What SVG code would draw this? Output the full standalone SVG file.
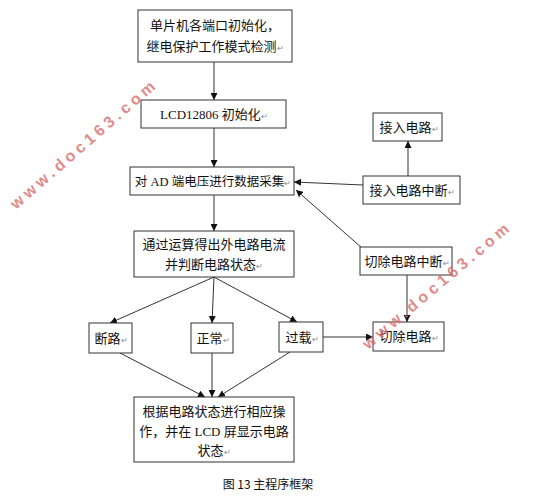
<svg xmlns="http://www.w3.org/2000/svg" width="544" height="502" viewBox="0 0 544 502">
<style>
.box{fill:#fff;stroke:#333;stroke-width:1}
.t{font-family:"Liberation Serif","Noto Sans CJK SC",serif;font-size:13px;fill:#111;text-anchor:middle}
.pm{font-size:8px;fill:#888}
.ln{stroke:#333;stroke-width:1;fill:none;marker-end:url(#ah)}
.wm{font-family:"Liberation Sans",Arial,sans-serif;font-weight:bold;font-size:16px;fill:#d86a6a;fill-opacity:0.8;letter-spacing:4px}
.cap{font-family:"Noto Sans CJK SC",sans-serif;font-size:12px;fill:#111;text-anchor:middle}
</style>
<defs>
<marker id="ah" viewBox="0 0 10 10" refX="10" refY="5" markerWidth="7" markerHeight="7" orient="auto" markerUnits="userSpaceOnUse">
<path d="M0,0 L10,5 L0,10 z" fill="#111"/>
</marker>
</defs>
<rect width="544" height="502" fill="#fff"/>
<g id="connectors">
<line class="ln" x1="214" y1="62" x2="214" y2="100"/>
<line class="ln" x1="214" y1="128" x2="214" y2="167"/>
<line class="ln" x1="214" y1="195" x2="214" y2="231"/>
<line class="ln" x1="214" y1="277" x2="110" y2="323"/>
<line class="ln" x1="214" y1="277" x2="212" y2="323"/>
<line class="ln" x1="214" y1="277" x2="297" y2="322"/>
<line class="ln" x1="120" y1="353" x2="205" y2="397"/>
<line class="ln" x1="212" y1="353" x2="212" y2="397"/>
<line class="ln" x1="290" y1="352" x2="218" y2="397"/>
<line class="ln" x1="323" y1="337" x2="373" y2="337"/>
<line class="ln" x1="408" y1="176" x2="408" y2="141"/>
<line class="ln" x1="363" y1="185" x2="294" y2="182"/>
<line class="ln" x1="362" y1="248" x2="296" y2="190"/>
<line class="ln" x1="407" y1="275" x2="407" y2="322"/>
</g>
<g id="n1"><rect class="box" x="138" y="10" width="154" height="52"/>
<text class="t" x="215" y="30">单片机各端口初始化，</text>
<text class="t" x="215" y="51">继电保护工作模式检测<tspan class="pm">↵</tspan></text></g>
<g id="n2"><rect class="box" x="141" y="100" width="145" height="28"/>
<text class="t" x="214" y="119">LCD12806 初始化<tspan class="pm">↵</tspan></text></g>
<g id="n3"><rect class="box" x="130" y="167" width="164" height="28"/>
<text class="t" x="213" y="186" style="font-size:12.5px">对 AD 端电压进行数据采集<tspan class="pm">↵</tspan></text></g>
<g id="n4"><rect class="box" x="134" y="231" width="160" height="46"/>
<text class="t" x="214" y="249">通过运算得出外电路电流</text>
<text class="t" x="214" y="269">并判断电路状态<tspan class="pm">↵</tspan></text></g>
<g id="n5"><rect class="box" x="89" y="323" width="43" height="30"/>
<text class="t" x="111" y="343">断路<tspan class="pm">↵</tspan></text></g>
<g id="n6"><rect class="box" x="191" y="323" width="42" height="30"/>
<text class="t" x="213" y="343">正常<tspan class="pm">↵</tspan></text></g>
<g id="n7"><rect class="box" x="279" y="322" width="44" height="30"/>
<text class="t" x="302" y="342">过载<tspan class="pm">↵</tspan></text></g>
<g id="n8"><rect class="box" x="134" y="397" width="160" height="65"/>
<text class="t" x="214" y="416">根据电路状态进行相应操</text>
<text class="t" x="214" y="436">作，并在 LCD 屏显示电路</text>
<text class="t" x="214" y="455">状态<tspan class="pm">↵</tspan></text></g>
<g id="n9"><rect class="box" x="373" y="113" width="69" height="28"/>
<text class="t" x="409" y="132">接入电路<tspan class="pm">↵</tspan></text></g>
<g id="n10"><rect class="box" x="363" y="176" width="97" height="28"/>
<text class="t" x="412" y="195">接入电路中断<tspan class="pm">↵</tspan></text></g>
<g id="n11"><rect class="box" x="360" y="247" width="92" height="28"/>
<text class="t" x="407" y="266">切除电路中断<tspan class="pm">↵</tspan></text></g>
<g id="n12"><rect class="box" x="373" y="322" width="71" height="29"/>
<text class="t" x="409" y="341">切除电路<tspan class="pm">↵</tspan></text></g>
<text class="cap" x="268" y="489">图 13 主程序框架</text>
<text class="wm" transform="translate(16,210) rotate(-41)">www.doc163.com</text>
<text class="wm" transform="translate(368,350) rotate(-40)">www.doc163.com</text>
</svg>
